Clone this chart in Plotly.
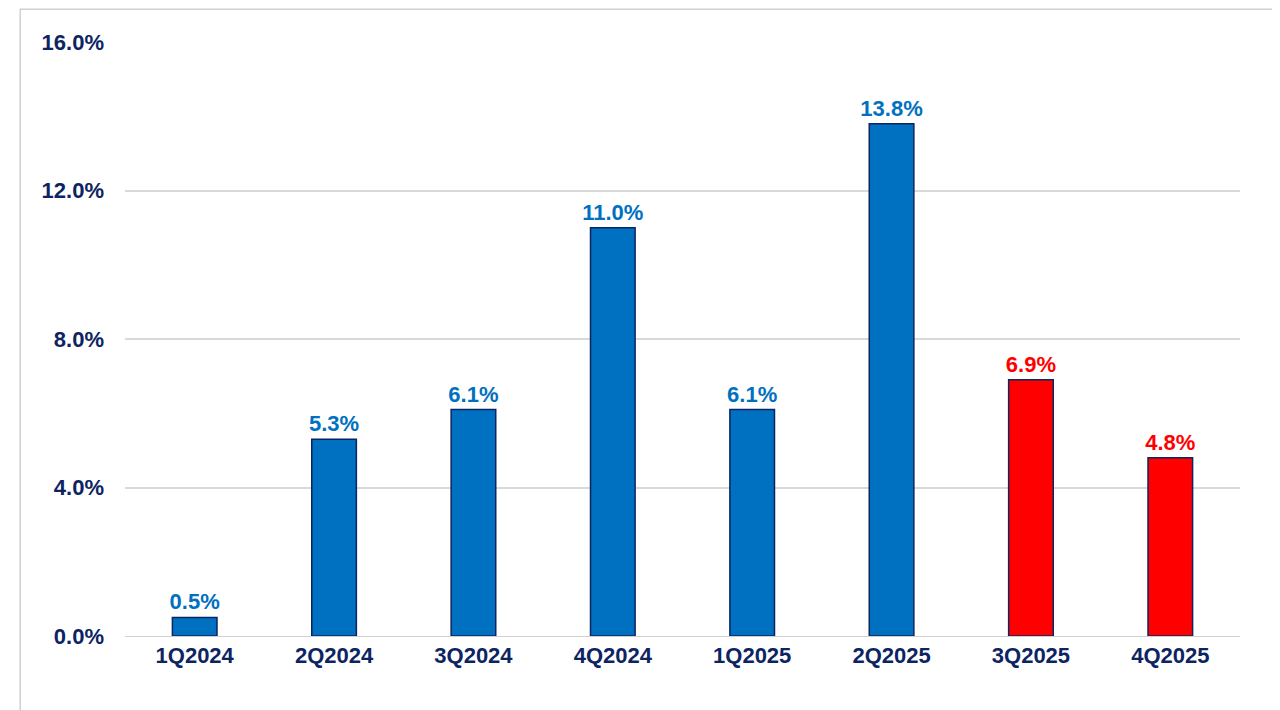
import plotly.graph_objects as go

categories = ["1Q2024","2Q2024","3Q2024","4Q2024","1Q2025","2Q2025","3Q2025","4Q2025"]
values = [0.5, 5.3, 6.1, 11.0, 6.1, 13.8, 6.9, 4.8]
is_forecast = [False]*6 + [True]*2
y_ticks = [0, 4, 8, 12, 16]

blue, red, navy = "#0070C0", "#FF0000", "#0D2463"
colors = [red if f else blue for f in is_forecast]
FONT = "Liberation Sans, Arial"

fig = go.Figure(go.Bar(
    x=categories, y=values, width=0.32,
    marker=dict(color=colors, line=dict(color=navy, width=1.5)),
    text=[f"<b>{v:.1f}%</b>" for v in values], textposition="outside",
    constraintext="none",
    textfont=dict(family=FONT, size=22, color=colors),
    cliponaxis=False,
))
fig.update_layout(
    width=1280, height=710, plot_bgcolor="white", paper_bgcolor="white",
    margin=dict(l=117, r=48, t=34, b=82), showlegend=False,
    font=dict(family=FONT, size=22, color=navy),
    xaxis=dict(tickfont=dict(family=FONT, size=22, color=navy), showline=True,
               linecolor="#D0D0D0", ticks="",
               tickvals=categories, ticktext=[f"<b>{c}</b>" for c in categories]),
    yaxis=dict(range=[0, 16], tickvals=y_ticks,
               ticktext=[f"<b>{t:.1f}%</b>" for t in y_ticks],
               gridcolor="#D9D9D9", gridwidth=1.5, zeroline=False,
               tickfont=dict(family=FONT, size=22, color=navy), ticklabelstandoff=20),
    shapes=[dict(type="rect", xref="paper", yref="paper", x0=-0.094, x1=1.042, y0=-0.13, y1=1.055,
                 line=dict(color="#D0D0D0", width=1.5))],
)
fig.write_html("out.html")
